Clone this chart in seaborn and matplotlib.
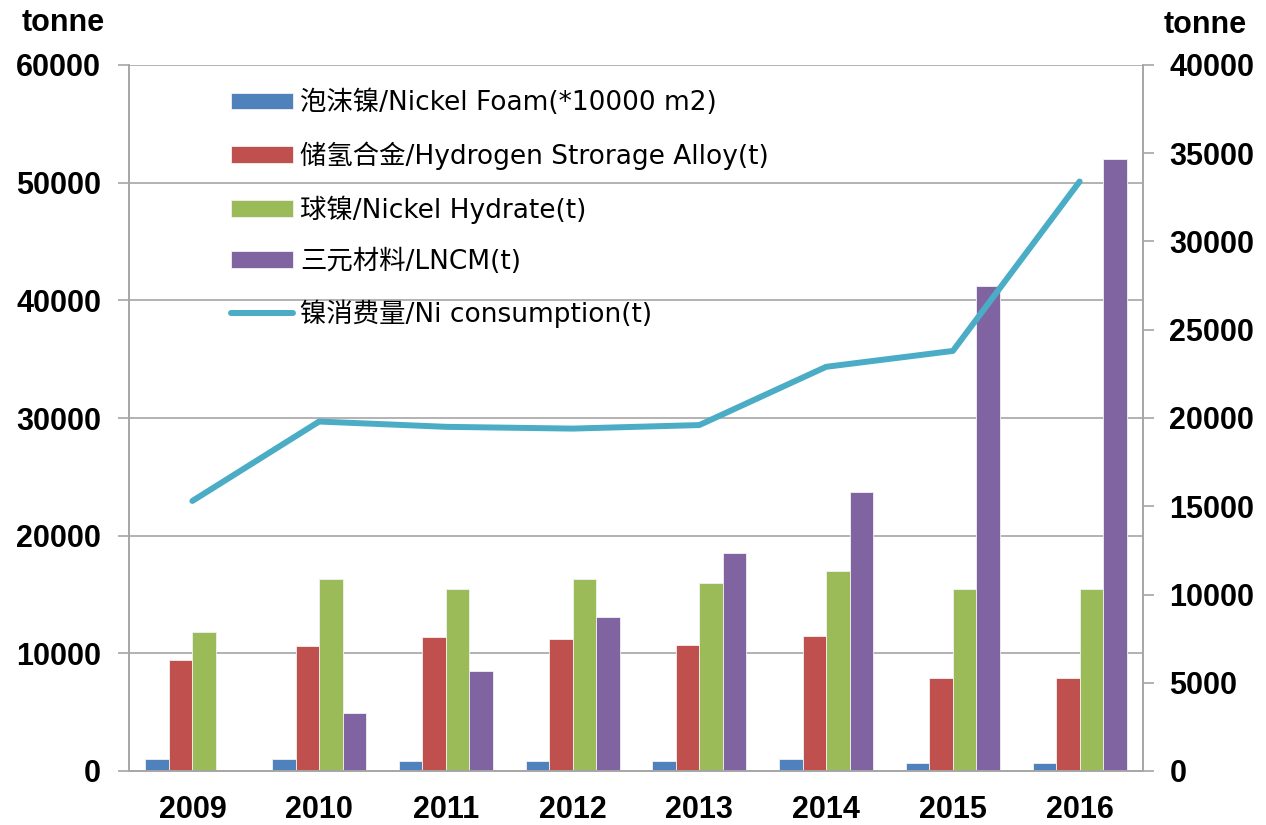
import numpy as np
import pandas as pd
import seaborn as sns
import matplotlib.pyplot as plt

years = ['2009', '2010', '2011', '2012', '2013', '2014', '2015', '2016']
foam = [1000, 1000, 850, 850, 850, 1000, 700, 700]
alloy = [9400, 10600, 11400, 11200, 10700, 11500, 7900, 7900]
hydrate = [11800, 16300, 15500, 16300, 16000, 17000, 15500, 15500]
lncm = [0, 4900, 8500, 13100, 18500, 23700, 41200, 52000]
ni_use = [15300, 19800, 19500, 19400, 19600, 22900, 23800, 33400]

bar_names = ['泡沫镍/Nickel Foam(*10000 m2)', '储氢合金/Hydrogen Strorage Alloy(t)',
             '球镍/Nickel Hydrate(t)', '三元材料/LNCM(t)']
line_name = '镍消费量/Ni consumption(t)'
bar_colors = ['#4F81BD', '#C0504D', '#9BBB59', '#8064A2']
line_color = '#4BACC6'
grey = '#A6A6A6'

df = pd.DataFrame({'year': years, bar_names[0]: foam, bar_names[1]: alloy,
                   bar_names[2]: hydrate, bar_names[3]: lncm})
df = df.melt(id_vars='year', var_name='series', value_name='value')

sns.set_style('white')
plt.rcParams['font.family'] = ['Liberation Sans', 'Noto Sans CJK SC', 'DejaVu Sans']
plt.rcParams['text.color'] = 'black'
plt.rcParams['xtick.labelcolor'] = 'black'
plt.rcParams['ytick.labelcolor'] = 'black'

fig, ax = plt.subplots(figsize=(12.66, 8.25), dpi=100)
fig.subplots_adjust(left=129/1266, right=1143/1266, top=1-65/825, bottom=1-771/825)

sns.barplot(data=df, x='year', y='value', hue='series', hue_order=bar_names,
            palette=bar_colors, width=0.74, gap=0, edgecolor='#F2F2F2',
            linewidth=0.6, saturation=1, ax=ax)
handles, labels = ax.get_legend_handles_labels()
ax.get_legend().remove()

ax2 = ax.twinx()
sns.lineplot(x=years, y=ni_use, color=line_color, linewidth=4.3, ax=ax2,
             label=line_name, solid_capstyle='round')
h2, l2 = ax2.get_legend_handles_labels()

ax.set_xlim(-0.5, 7.5)
ax.set_ylim(0, 60000)
ax2.set_ylim(0, 40000)
ax.set_yticks(np.arange(0, 60001, 10000))
ax2.set_yticks(np.arange(0, 40001, 5000))
ax.set_xlabel('')
ax.set_ylabel('')
ax2.set_ylabel('')

ax.set_axisbelow(True)
ax.yaxis.grid(True, color=grey, linewidth=1.2)
ax.xaxis.grid(False)
ax2.grid(False)

for a in (ax, ax2):
    for s in a.spines.values():
        s.set_color(grey)
        s.set_linewidth(1.2)
    a.spines['top'].set_visible(False)

ax.tick_params(axis='x', which='major', length=0, pad=17, labelsize=22)
ax.set_xticks(np.arange(-0.5, 8, 1), minor=True)
ax.tick_params(axis='x', which='minor', length=7, width=1.2, color=grey, direction='out')
ax.tick_params(axis='y', length=8, width=1.2, color=grey, direction='out', pad=12, labelsize=22)
ax2.tick_params(axis='y', length=8, width=1.2, color=grey, direction='out', pad=11, labelsize=22)
for lab in ax.get_xticklabels() + ax.get_yticklabels() + ax2.get_yticklabels():
    lab.set_fontweight('bold')

fig.text(63/1266, 1-23/825, 'tonne', ha='center', va='center', fontsize=22, fontweight='bold')
fig.text(1205/1266, 1-25/825, 'tonne', ha='center', va='center', fontsize=22, fontweight='bold')

leg = ax2.legend(handles + h2, labels + l2, loc='upper left',
                 bbox_to_anchor=(231/1266, 1-90/825), bbox_transform=fig.transFigure,
                 frameon=False, handlelength=2.35, handleheight=0.6,
                 handletextpad=0.27, labelspacing=0.95, borderpad=0, borderaxespad=0,
                 prop={'family': ['DejaVu Sans', 'Noto Sans CJK SC'], 'size': 19})

plt.savefig('out.png', dpi=100)
